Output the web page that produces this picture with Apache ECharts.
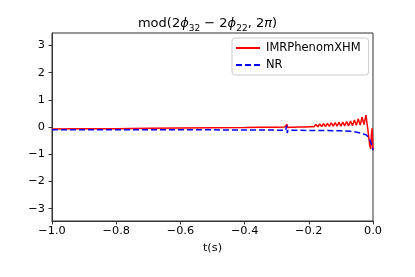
<!DOCTYPE html>
<html>
<head>
<meta charset="utf-8">
<script src="https://cdn.jsdelivr.net/npm/echarts@6/dist/echarts.min.js"></script>
<style>html,body{margin:0;padding:0;background:#fff}#c{width:415px;height:277px}</style>
</head>
<body>
<div id="c"></div>
<script>
// ---- data ----
var xTicks = [-1.0, -0.8, -0.6, -0.4, -0.2, 0.0];
var yTicks = [-3, -2, -1, 0, 1, 2, 3];
var seriesNames = ['IMRPhenomXHM', 'NR'];

var xhmT = [-1.000, -0.900, -0.800, -0.700, -0.600, -0.500, -0.400, -0.350, -0.300, -0.275,
  -0.270, -0.268, -0.266, -0.262,
  -0.256, -0.250, -0.244, -0.238, -0.232, -0.226, -0.220, -0.214, -0.208, -0.202,
  -0.196, -0.190, -0.184, -0.178, -0.172, -0.166, -0.160, -0.154, -0.148, -0.142,
  -0.136, -0.130, -0.124, -0.118, -0.112, -0.106, -0.100, -0.094, -0.088, -0.082,
  -0.076, -0.070, -0.064, -0.058, -0.052, -0.046, -0.040, -0.034, -0.028, -0.022,
  -0.016, -0.010, -0.007, -0.005, -0.003, -0.001, 0.000];
var xhmPhase = [-0.07, -0.065, -0.06, -0.05, -0.04, -0.03, -0.02, -0.01, -0.005, 0.0,
  -0.01, 0.10, -0.02, 0.01,
  -0.01, 0.03, -0.01, 0.04, 0.00, 0.05, 0.00, 0.06, 0.00, 0.07,
  0.01, 0.075, 0.01, 0.09, 0.01, 0.11, 0.02, 0.12, 0.02, 0.13,
  0.02, 0.15, 0.03, 0.16, 0.03, 0.17, 0.03, 0.18, 0.04, 0.20,
  0.04, 0.22, 0.05, 0.26, 0.06, 0.30, 0.07, 0.36, 0.09, 0.44,
  -0.10, -0.70, -0.80, -0.30, -0.05, -0.60, -0.85];

var nrT = [-1.000, -0.800, -0.600, -0.400, -0.300, -0.272, -0.270, -0.269, -0.267, -0.265,
  -0.200, -0.150, -0.100, -0.070, -0.050, -0.035, -0.020, -0.012, -0.007, -0.003, 0.000];
var nrPhase = [-0.10, -0.10, -0.10, -0.11, -0.115, -0.12, -0.10, 0.05, -0.22, -0.12,
  -0.125, -0.13, -0.14, -0.16, -0.19, -0.23, -0.30, -0.42, -0.56, -0.70, -0.85];

function pairs(t, v) { var out = []; for (var i = 0; i < t.length; i++) out.push([t[i], v[i]]); return out; }
function fmtMinus(s) { return String(s).replace('-', '\u2212'); }

var FONT = 'DejaVu Sans';
var AX = '#333';
var chart = echarts.init(document.getElementById('c'), null, { renderer: 'canvas' });
chart.setOption({
  animation: false,
  backgroundColor: '#fff',
  title: {
    left: 'center', top: 15, padding: 0,
    text: '{n|mod(2}{i|ϕ}{s|32}{n| − 2}{i|ϕ}{s|22}{n|, 2}{i|π}{n|)}',
    textStyle: {
      fontWeight: 'normal',
      rich: {
        n: { fontFamily: FONT, fontSize: 13, lineHeight: 18, fontWeight: 'normal', color: '#000' },
        i: { fontFamily: FONT, fontSize: 13, lineHeight: 18, fontWeight: 'normal', fontStyle: 'italic', color: '#000' },
        s: { fontFamily: FONT, fontSize: 9, lineHeight: 10, fontWeight: 'normal', verticalAlign: 'bottom', color: '#000' }
      }
    }
  },
  legend: {
    orient: 'vertical', left: 232, top: 38,
    padding: [4, 8, 4, 3], itemGap: 5, itemWidth: 24, itemHeight: 12,
    borderColor: '#cccccc', borderWidth: 1, borderRadius: 3, backgroundColor: 'rgba(255,255,255,0.8)',
    itemStyle: { opacity: 0 },
    textStyle: { fontFamily: FONT, fontSize: 11.5, color: '#000', padding: [0, 0, 0, 1] },
    data: seriesNames
  },
  grid: { left: 52, right: 42, top: 33, bottom: 56, show: true, borderColor: AX, borderWidth: 1, containLabel: false },
  xAxis: {
    type: 'value', min: -1, max: 0, interval: 0.2,
    name: 't(s)', nameLocation: 'middle', nameGap: 22,
    nameTextStyle: { fontFamily: FONT, fontSize: 11.3, color: '#000' },
    axisLine: { show: true, onZero: false, lineStyle: { color: AX, width: 1 } },
    axisTick: { show: true, length: 3.5, lineStyle: { color: AX } },
    axisLabel: { fontFamily: FONT, fontSize: 11.3, color: '#000', margin: 5,
      formatter: function (v) { return fmtMinus(v.toFixed(1)).replace('\u22120.0', '0.0'); } },
    splitLine: { show: false }
  },
  yAxis: {
    type: 'value', min: -1.1 * Math.PI, max: 1.1 * Math.PI,
    axisLine: { show: true, onZero: false, lineStyle: { color: AX, width: 1 } },
    axisTick: { show: true, length: 3.5, lineStyle: { color: AX }, customValues: yTicks },
    axisLabel: { fontFamily: FONT, fontSize: 11.3, color: '#000', margin: 7, customValues: yTicks,
      formatter: function (v) { return fmtMinus(v); } },
    splitLine: { show: false }
  },
  series: [
    { name: seriesNames[0], type: 'line', data: pairs(xhmT, xhmPhase), symbol: 'none', showSymbol: false,
      lineStyle: { color: '#ff0000', width: 1.5 }, itemStyle: { color: '#ff0000' }, clip: true },
    { name: seriesNames[1], type: 'line', data: pairs(nrT, nrPhase), symbol: 'none', showSymbol: false,
      lineStyle: { color: '#0000ff', width: 1.5, type: [6, 3] }, itemStyle: { color: '#0000ff' }, clip: true }
  ]
});
</script>
</body>
</html>
